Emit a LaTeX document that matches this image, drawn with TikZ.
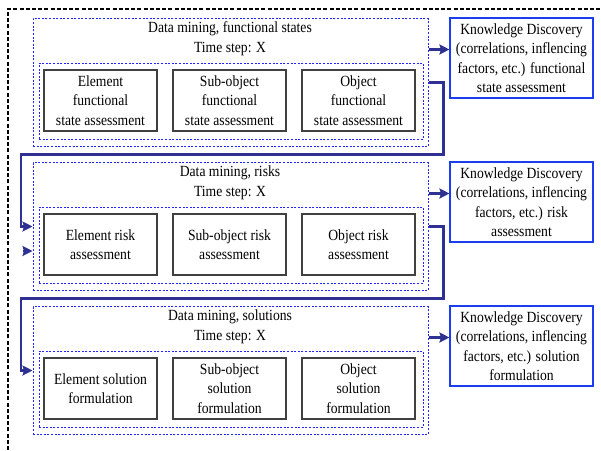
\documentclass[tikz,border=0pt]{standalone}
\usepackage{fontspec}
\setmainfont[FakeStretch=0.88]{Liberation Serif}
\usetikzlibrary{arrows.meta}
\definecolor{navyline}{HTML}{2E3192}
\definecolor{dotblue}{HTML}{2424FF}
\definecolor{kdblue}{HTML}{1A3DF0}

\begin{document}
\begin{tikzpicture}[x=1pt,y=-1pt,>={Stealth[length=10pt,width=10pt,inset=1.5pt]},
  every node/.style={font=\fontsize{15.5}{19.5}\selectfont,align=center,inner sep=0pt},
  stage/.style={draw=dotblue,dash pattern=on 2pt off 1.6pt,line width=1pt,minimum width=395pt,minimum height=128pt},
  group/.style={draw=dotblue,dash pattern=on 2pt off 1.6pt,line width=1pt,minimum width=384pt,minimum height=76pt},
  task/.style={draw=black!75,line width=1.1pt,minimum width=113pt,minimum height=61pt},
  kd/.style={draw=kdblue,line width=1.1pt,minimum width=143pt,minimum height=80pt},
  link/.style={draw=navyline,line width=2.4pt}]
\useasboundingbox (0,0) rectangle (601,450);
\draw[line width=1.6pt,dash pattern=on 4pt off 2.2pt] (8,450) -- (8,9) -- (601,9);

% functional states
\node[stage] (out1) at (230.5,82.5) {};
\node[group] (in1) at (231,101) {};
\node (dm1) at (230,28.5) {Data mining, functional states};
\node (ts1) at (230,49.5) {Time step: X};
\node[task] (el1) at (100.5,100.5) {Element\\functional\\state assessment};
\node[task] (sub1) at (229.5,100.5) {Sub-object\\functional\\state assessment};
\node[task] (obj1) at (358.5,100.5) {Object\\functional\\state assessment};
\node[kd] (kd1) at (521.5,58) {Knowledge Discovery\\(correlations, inflencing\\factors, etc.) functional\\state assessment};

% risks
\node[stage] (out2) at (230.5,226.5) {};
\node[group] (in2) at (231,245) {};
\node (dm2) at (230,172.5) {Data mining, risks};
\node (ts2) at (230,193.5) {Time step: X};
\node[task] (el2) at (100.5,244.5) {Element risk\\assessment};
\node[task] (sub2) at (229.5,244.5) {Sub-object risk\\assessment};
\node[task] (obj2) at (358.5,244.5) {Object risk\\assessment};
\node[kd] (kd2) at (521.5,202) {Knowledge Discovery\\(correlations, inflencing\\factors, etc.) risk\\assessment};

% solutions
\node[stage] (out3) at (230.5,370.5) {};
\node[group] (in3) at (231,389) {};
\node (dm3) at (230,316.5) {Data mining, solutions};
\node (ts3) at (230,337.5) {Time step: X};
\node[task] (el3) at (100.5,388.5) {Element solution\\formulation};
\node[task] (sub3) at (229.5,388.5) {Sub-object\\solution\\formulation};
\node[task] (obj3) at (358.5,388.5) {Object\\solution\\formulation};
\node[kd] (kd3) at (521.5,346) {Knowledge Discovery\\(correlations, inflencing\\factors, etc.) solution\\formulation};

\coordinate (gap1) at (21,154.5);
\coordinate (gap2) at (21,298.5);
\coordinate (stray) at (23,251);

\draw[link,->] (out1.east |- ts1) -- (kd1.west |- ts1);
\draw[link,->] (out2.east |- ts2) -- (kd2.west |- ts2);
\draw[link,->] (out3.east |- ts3) -- (kd3.west |- ts3);
\draw[link,->] (out1.east) -- ++(15,0) |- (gap1) |- (out2.west);
\draw[link,->] (out2.east) -- ++(15,0) |- (gap2) |- (out3.west);
\draw[link,->] (stray) -- (out2.west |- stray);
\end{tikzpicture}
\end{document}
